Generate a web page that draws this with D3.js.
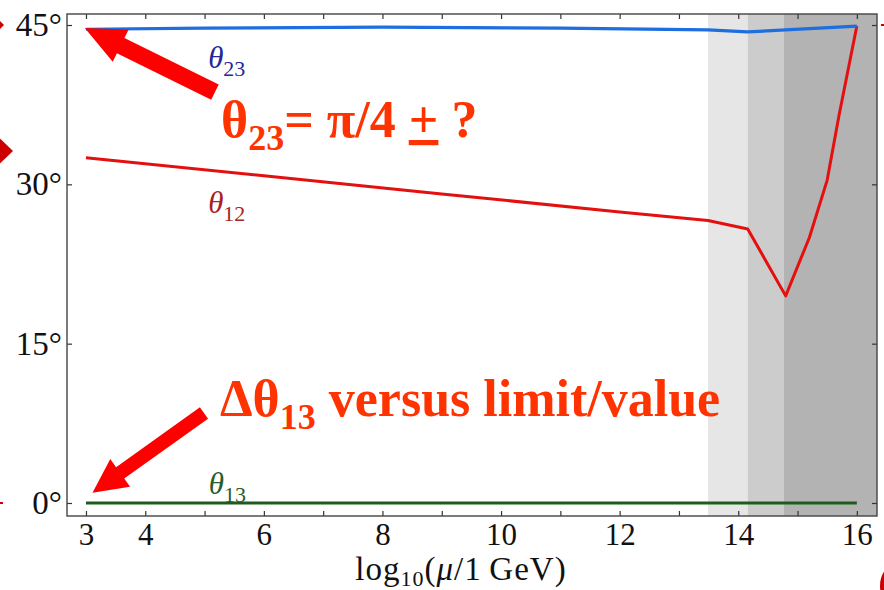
<!DOCTYPE html>
<html>
<head>
<meta charset="utf-8">
<script src="https://cdn.jsdelivr.net/npm/d3@7"></script>
<style>
  body { margin: 0; background: #fff; }
  svg { display: block; }
</style>
</head>
<body>
<svg id="chart-svg" width="884" height="590"></svg>
<script>
// values
const xTickValues = [3, 4, 5, 6, 7, 8, 9, 10, 11, 12, 13, 14, 15, 16];
const xTickLabels = [3, 4, 6, 8, 10, 12, 14, 16];
const yTickValues = [0, 15, 30, 45];

const bandStart = [13.49, 14.16, 14.77];
const bandEnd = [14.16, 14.77, 16.34];

const mu23 = [3, 5, 8, 11, 13.49, 14.16, 16];
const theta23 = [44.6, 44.7, 44.8, 44.7, 44.55, 44.35, 44.9];

const mu12 = [3, 6, 9, 12, 13.49, 14.16, 14.8, 15.2, 15.5, 15.7, 16];
const theta12 = [32.5, 30.8, 29.1, 27.4, 26.6, 25.8, 19.5, 25.0, 30.4, 36.5, 44.9];

const mu13 = [3, 16];
const theta13 = [0, 0];

function createAngleGraph(width, height) {
    const size = { width: width, height: height, left: 67, right: 877, top: 14, bottom: 516 };
    const svg = d3.select('#chart-svg');

    const xScale = d3.scaleLinear()
        .domain([2.68, 16.34])
        .range([size.left, size.right]);

    const yScale = d3.scaleLinear()
        .domain([-1.224, 46.036])
        .range([size.bottom, size.top]);

    const bands = bandStart.map((s, i) => ({ start: s, end: bandEnd[i] }));
    const bandFill = ['#e6e6e6', '#cccccc', '#b3b3b3'];

    svg.selectAll('rect.band')
        .data(bands)
        .join('rect')
        .attr('class', 'band')
        .attr('x', d => xScale(d.start))
        .attr('width', d => xScale(d.end) - xScale(d.start))
        .attr('y', size.top)
        .attr('height', size.bottom - size.top)
        .attr('fill', (d, i) => bandFill[i]);

    const line = d3.line()
        .x(d => xScale(d[0]))
        .y(d => yScale(d[1]));

    const series = [
        { mu: mu13, theta: theta13, color: '#1d5c1d', width: 3.2 },
        { mu: mu12, theta: theta12, color: '#e41010', width: 3 },
        { mu: mu23, theta: theta23, color: '#1f6ee0', width: 3.2 }
    ];

    series.forEach(s => {
        svg.append('path')
            .datum(d3.zip(s.mu, s.theta))
            .attr('fill', 'none')
            .attr('stroke', s.color)
            .attr('stroke-width', s.width)
            .attr('stroke-linejoin', 'round')
            .attr('d', line);
    });

    // frame + inward ticks on all sides
    const fontTicks = 'Liberation Serif, Times New Roman, serif';

    const bottomAxis = svg.append('g')
        .attr('transform', `translate(0, ${size.bottom})`)
        .call(d3.axisBottom(xScale).tickValues(xTickValues).tickSize(-5).tickPadding(7)
            .tickFormat(d => xTickLabels.includes(d) ? d : ''));
    svg.append('g')
        .attr('transform', `translate(0, ${size.top})`)
        .call(d3.axisTop(xScale).tickValues(xTickValues).tickSize(-5).tickFormat(''));
    const leftAxis = svg.append('g')
        .attr('transform', `translate(${size.left}, 0)`)
        .call(d3.axisLeft(yScale).tickValues(yTickValues).tickSize(-5).tickPadding(5)
            .tickFormat(d => d + '°'));
    svg.append('g')
        .attr('transform', `translate(${size.right}, 0)`)
        .call(d3.axisRight(yScale).tickValues(yTickValues).tickSize(-5).tickFormat(''));

    svg.selectAll('.domain').remove();
    svg.selectAll('.tick line').attr('stroke', '#333').attr('stroke-width', 1.2);
    svg.selectAll('.tick text')
        .attr('font-family', fontTicks)
        .attr('fill', '#111');
    leftAxis.selectAll('.tick text').attr('font-size', 33);
    bottomAxis.selectAll('.tick text').attr('font-size', 31);

    svg.append('rect')
        .attr('x', size.left)
        .attr('y', size.top)
        .attr('width', size.right - size.left)
        .attr('height', size.bottom - size.top)
        .attr('fill', 'none')
        .attr('stroke', '#444')
        .attr('stroke-width', 1.4);

    // axis label
    const xl = svg.append('text')
        .attr('x', 461)
        .attr('y', 580)
        .attr('text-anchor', 'middle')
        .attr('font-family', fontTicks)
        .attr('font-size', 33)
        .attr('letter-spacing', 1)
        .attr('fill', '#111');
    xl.append('tspan').text('log');
    xl.append('tspan').attr('font-size', 22).attr('dy', 6).text('10');
    xl.append('tspan').attr('dy', -6).text('(');
    xl.append('tspan').attr('font-style', 'italic').text('μ');
    xl.append('tspan').text('/1\u2009GeV)');

    // curve labels
    const curveLabels = [
        { text: 'θ', sub: '23', x: 5.06, y: 40.95, color: '#26269a' },
        { text: 'θ', sub: '12', x: 5.06, y: 27.3, color: '#a82222' },
        { text: 'θ', sub: '13', x: 5.07, y: 0.85, color: '#2a5c2a' }
    ];
    curveLabels.forEach(l => {
        const t = svg.append('text')
            .attr('x', xScale(l.x))
            .attr('y', yScale(l.y))
            .attr('font-family', fontTicks)
            .attr('font-size', 31)
            .attr('fill', l.color);
        t.append('tspan').attr('font-style', 'italic').text(l.text);
        t.append('tspan').attr('font-size', 22).attr('dy', 8).text(l.sub);
    });

    // red arrows (tip, tail in data coords)
    const arrows = [
        { tip: [2.98, 44.72], tail: [5.175, 38.69], shaft: 17, headLen: 40, headHalf: 18 },
        { tip: [3.11, 0.97], tail: [4.99, 8.47], shaft: 14, headLen: 34, headHalf: 17 }
    ];
    arrows.forEach(a => {
        const tx = xScale(a.tip[0]), ty = yScale(a.tip[1]);
        const ex = xScale(a.tail[0]), ey = yScale(a.tail[1]);
        const len = Math.hypot(ex - tx, ey - ty);
        const ux = (ex - tx) / len, uy = (ey - ty) / len;
        const px = -uy, py = ux;
        const hx = tx + ux * a.headLen, hy = ty + uy * a.headLen;
        const s = a.shaft / 2;
        const pts = [
            [tx, ty],
            [hx + px * a.headHalf, hy + py * a.headHalf],
            [hx + px * s, hy + py * s],
            [ex + px * s, ey + py * s],
            [ex - px * s, ey - py * s],
            [hx - px * s, hy - py * s],
            [hx - px * a.headHalf, hy - py * a.headHalf]
        ];
        svg.append('polygon')
            .attr('points', pts.map(p => p.join(',')).join(' '))
            .attr('fill', '#ff0000');
    });

    // annotations
    const fontNote = 'Liberation Serif, Times New Roman, serif';
    const n1 = svg.append('text')
        .attr('x', 221)
        .attr('y', 137)
        .attr('font-family', fontNote)
        .attr('font-weight', 'bold')
        .attr('font-size', 52)
        .attr('fill', '#ff3300');
    n1.append('tspan').text('θ');
    n1.append('tspan').attr('font-size', 36).attr('dy', 13).text('23');
    n1.append('tspan').attr('dy', -13).text('= π/4 ');
    n1.append('tspan').attr('text-decoration', 'underline').text('+');
    n1.append('tspan').text(' ?');

    const n2 = svg.append('text')
        .attr('x', 220)
        .attr('y', 416)
        .attr('font-family', fontNote)
        .attr('font-weight', 'bold')
        .attr('font-size', 52)
        .attr('fill', '#ff3300');
    n2.append('tspan').text('Δθ');
    n2.append('tspan').attr('font-size', 36).attr('dy', 13).text('13');
    n2.append('tspan').attr('dy', -13).text(' versus limit/value');

    // slide decorations at the edges
    const deco = svg.append('g').attr('fill', '#cc0000');
    deco.append('path').attr('d', 'M-24,25 L-10,11 L4,25 L-10,39 Z');
    deco.append('path').attr('d', 'M-28,151 L-8,131 L13,151 L-8,171 Z');
    deco.append('rect').attr('x', 0).attr('y', 502).attr('width', 3).attr('height', 2);
    deco.append('rect').attr('x', 881).attr('y', 24).attr('width', 3).attr('height', 2);
    deco.append('ellipse').attr('cx', 896).attr('cy', 586).attr('rx', 16).attr('ry', 22);
}

createAngleGraph(884, 590);
</script>
</body>
</html>
